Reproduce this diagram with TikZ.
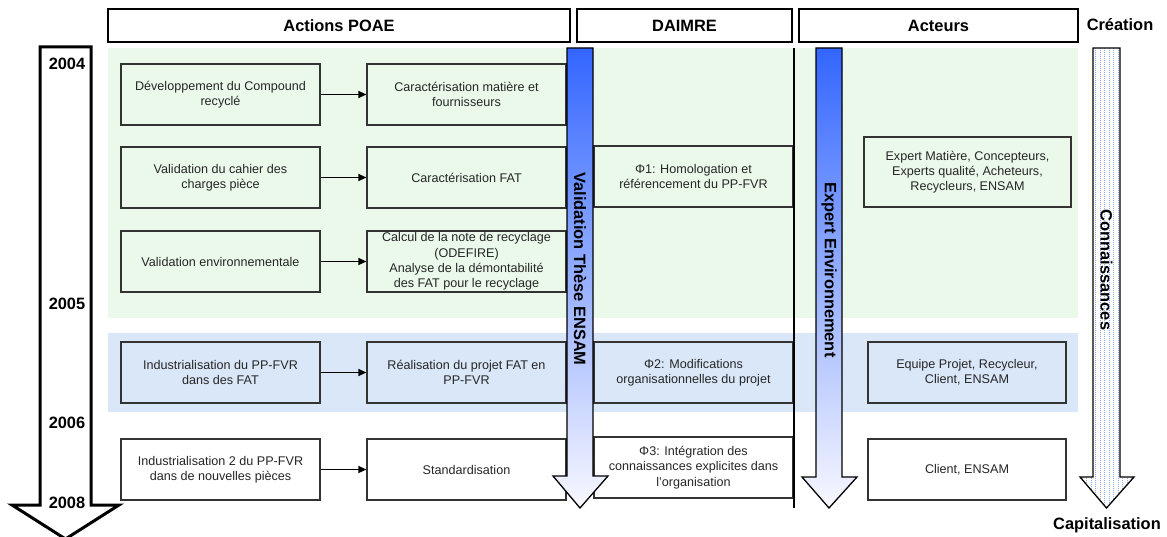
\documentclass[tikz,border=0pt]{standalone}
\usepackage{fontspec}
\setmainfont{Liberation Sans}
\usetikzlibrary{arrows.meta,positioning,calc}
\definecolor{barBlue}{RGB}{51,102,255}
\definecolor{barPale}{RGB}{248,248,255}
\definecolor{zoneGreen}{RGB}{235,249,235}
\definecolor{zoneBlue}{RGB}{218,231,248}
\definecolor{dotBlue}{RGB}{140,170,240}
\definecolor{boxLine}{HTML}{333333}
\tikzset{
  act/.style={draw=boxLine, line width=1.2pt, align=center, inner sep=1pt,
              minimum width=#1, minimum height=61pt, text=black!85,
              font=\fontsize{12.6}{15.3}\selectfont},
  act/.default=199pt,
  head/.style={draw=black, line width=2.8pt, fill=white, minimum width=#1,
               minimum height=33pt, font=\bfseries\fontsize{16.4}{19}\selectfont},
  lbl/.style={font=\bfseries\fontsize{16.4}{19}\selectfont, inner sep=0pt},
  vlbl/.style={lbl, rotate=-90},
  arr/.style={-{Triangle[length=8pt,width=7pt]}, line width=1.3pt},
  bigarr/.style={draw=black, line width=1.3pt},
}
\begin{document}
\begin{tikzpicture}[x=1pt,y=-1pt]
    \useasboundingbox (0,0) rectangle (1167,537);
    \fill[zoneGreen] (108,48) rectangle (1078,318);
    \fill[zoneBlue] (108,333) rectangle (1078,412);
    \node[head=462pt] (hpoae) at (339,25.5) {Actions POAE};
    \node[head=215pt] (hdaimre) at (684.5,25.5) {DAIMRE};
    \node[head=279pt] (hacteurs) at (938.5,25.5) {Acteurs};
    \node[lbl] (creation) at (1120,25) {Création};
    \node[lbl] (capital) at (1107,525) {Capitalisation};
    \draw[line width=3pt, fill=white] (40,47) -- (91,47) -- (91,505) -- (119,505)
      -- (65.5,539) -- (12,505) -- (40,505) -- cycle;
    \node[lbl] (y2004) at (67,64) {2004};
    \node[lbl] (y2005) at (67,303.5) {2005};
    \node[lbl] (y2006) at (67,423) {2006};
    \node[lbl] (y2008) at (67,502.5) {2008};
    \node[act] (a1) at (220.5,94.5) {Développement du Compound\\recyclé};
    \node[act] (b1) at (466.5,94.5) {Caractérisation matière et\\fournisseurs};
    \node[act] (a2) at (220.5,177.5) {Validation du cahier des\\charges pièce};
    \node[act] (b2) at (466.5,177.5) {Caractérisation FAT};
    \node[act] (a3) at (220.5,261.5) {Validation environnementale};
    \node[act] (b3) at (466.5,261.5) {Calcul de la note de recyclage\\(ODEFIRE)\\Analyse
      de la démontabilité\\des FAT pour le recyclage};
    \node[act] (a4) at (220.5,372.5) {Industrialisation du PP-FVR\\dans des FAT};
    \node[act] (b4) at (466.5,372.5) {Réalisation du projet FAT en\\PP-FVR};
    \node[act, fill=white] (a5) at (220.5,469.5) {Industrialisation 2 du PP-FVR\\dans
      de nouvelles pièces};
    \node[act, fill=white] (b5) at (466.5,469.5) {Standardisation};
    \node[act] (d1) at (693.5,176.5) {Φ1: Homologation et\\référencement du PP-FVR};
    \node[act] (d2) at (693.5,372.5) {Φ2: Modifications\\organisationnelles du projet};
    \node[act, fill=white] (d3) at (693.5,467.5) {Φ3: Intégration des\\connaissances
      explicites dans\\l’organisation};
    \node[act=207pt, minimum height=70pt] (c1) at (967.5,172) {Expert Matière,
      Concepteurs,\\Experts qualité, Acheteurs,\\Recycleurs, ENSAM};
    \node[act=198pt] (c2) at (967,372.5) {Equipe Projet, Recycleur,\\Client, ENSAM};
    \node[act=198pt, fill=white] (c3) at (967,469.5) {Client, ENSAM};
    \foreach \r in {1,...,5}
      \draw[arr] (a\r) -- (b\r);
    \draw[line width=2.6pt] (794,48) -- (794,508);
    \draw[bigarr, top color=barBlue, bottom color=barPale] (567,48) -- (593,48)
      -- (593,476) -- (608,476) -- (580,508) -- (553,476) -- (567,476) -- cycle;
    \node[vlbl] (valid) at (580,269) {Validation Thèse ENSAM};
    \draw[bigarr, top color=barBlue, bottom color=barPale] (816,48) -- (842,48)
      -- (842,477) -- (857,477) -- (829,508) -- (802,477) -- (816,477) -- cycle;
    \node[vlbl] (expert) at (829,270) {Expert Environnement};
    \draw[bigarr, fill=white, path picture={
        \foreach \x in {1082,1086.5,...,1134}
          \draw[dotBlue, line width=0.6pt, dash pattern=on 1pt off 1pt] (\x,40) -- (\x,520);
      }] (1093,48) -- (1120,48) -- (1120,477) -- (1134,477) -- (1106.5,508)
      -- (1080,477) -- (1093,477) -- cycle;
    \node[vlbl] (connais) at (1106.5,270) {Connaissances};
  \end{tikzpicture}
\end{document}
